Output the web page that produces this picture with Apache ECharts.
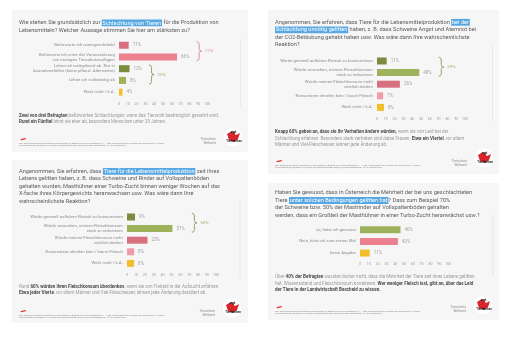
<!DOCTYPE html>
<html><head><meta charset="utf-8">
<script src="https://cdn.jsdelivr.net/npm/echarts@6/dist/echarts.min.js"></script>
<style>html,body{margin:0;padding:0;background:#fff}#c{width:512px;height:337px}</style>
</head><body><div id="c"></div>
<script>
// ---- survey data ----
const cats1 = ['Befürworte ich uneingeschränkt',
  'Befürworte ich unter der Voraussetzung\nvon strengen Tierschutzauflagen',
  'Lehne ich weitgehend ab. Nur in\nAusnahmefällen (keine pflanzl. Alternative)',
  'Lehne ich vollständig ab', 'Weiß nicht / k.A.'];
const vals1 = [11, 66, 12, 8, 4];
const groups1 = [[0, 1], [2, 3]];

const cats2 = ['Würde generell aufhören Fleisch zu konsumieren',
  'Würde versuchen, meinen Fleischkonsum\nstark zu reduzieren',
  'Würde meinen Fleischkonsum nicht\nwirklich ändern',
  'Konsumiere ohnehin kein / kaum Fleisch', 'Weiß nicht / k.A.'];
const vals2 = [11, 48, 26, 7, 8];
const groups2 = [[0, 1]];

const cats3 = cats2.slice();
const vals3 = [9, 51, 23, 8, 8];
const groups3 = [[0, 1]];

const cats4 = ['Ja, habe ich gewusst', 'Nein, höre ich zum ersten Mal', 'keine Angabe'];
const vals4 = [46, 43, 11];
const groups4 = [];

const ticks = [0, 10, 20, 30, 40, 50, 60, 70, 80, 90, 100];

const title1 = 'Wie stehen Sie grundsätzlich zur {hl|Schlachtung von Tieren} für die Produktion von\nLebensmitteln? Welcher Aussage stimmen Sie hier am stärksten zu?';
const title2 = 'Angenommen, Sie erfahren, dass Tiere für die Lebensmittelproduktion {hl|bei der}\n{hl|Schlachtung unnötig gelitten} haben, z. B. dass Schweine Angst und Atemnot bei\nder CO2-Betäubung gehabt haben usw. Was wäre dann Ihre wahrscheinlichste\nReaktion?';
const title3 = 'Angenommen, Sie erfahren, dass {hl|Tiere für die Lebensmittelproduktion} zeit ihres\nLebens gelitten haben, z. B. dass Schweine und Rinder auf Vollspaltenböden\ngehalten wurden, Masthühner einer Turbo-Zucht binnen weniger Wochen auf das\nX-fache ihres Körpergewichts heranwachsen usw. Was wäre dann Ihre\nwahrscheinlichste Reaktion?';
const title4 = 'Haben Sie gewusst, dass in Österreich die Mehrheit der bei uns geschlachteten\nTiere {hl|unter solchen Bedingungen gelitten hat}? Dass zum Beispiel 70%\nder Schweine bzw. 50% der Mastrinder auf Vollspaltenböden gehalten\nwerden, dass ein Großteil der Masthühner in einer Turbo-Zucht heranwächst usw.?';

const note1 = '{b|Zwei von drei Befragten} befürworten Schlachtungen, wenn das Tierwohl bestmöglich gewahrt wird.\n{b|Rund ein Fünftel} lehnt sie eher ab, besonders Menschen unter 29 Jahren.';
const note2 = '{b|Knapp 60% geben an, dass sie ihr Verhalten ändern würden,} wenn sie von Leid bei der\nSchlachtung erfahren. Besonders stark vertreten sind dabei Frauen. {b|Etwa ein Viertel}, vor allem\nMänner und Viel-Fleischesser, lehnen jede Änderung ab.';
const note3 = 'Rund {b|60% würden ihren Fleischkonsum überdenken}, wenn sie von Tierleid in der Aufzucht erfahren.\n{b|Etwa jeder Vierte}, vor allem Männer und Viel-Fleischesser, lehnen jede Änderung dezidiert ab.';
const note4 = 'Über {b|40% der Befragten} wussten bisher nicht, dass die Mehrheit der Tiere zeit ihres Lebens gelitten\nhat. Wissensstand und Fleischkonsum korrelieren. {b|Wer weniger Fleisch isst, gibt an, über das Leid}\n{b|der Tiere in der Landwirtschaft Bescheid zu wissen.}';

const source = 'Eine Studie des MARKET Marktforschungsinstituts im Auftrag von Tierschutz Austria, n = 1.000, repräsentativ für die österr. Bevölkerung ab 16 Jahren\nOnline-Befragung, Angaben in Prozent, Rundungsdifferenzen möglich, Erhebungszeitraum: 15.-26. August 2024';
const brand = 'Tierschutz\nWeltweit';

// ---- styling ----
const ROSE = '#d8717f', PINK = '#ec808e', PINK_L = '#f09ba7',
      OLIVE_D = '#7c8c3f', OLIVE_L = '#9db25a', YELLOW = '#f1bf2c';
const FONT = 'Roboto, "Noto Sans", sans-serif';
const TITLE_FS = 5.65, NOTE_FS = 4.55;

const panels = [
  { cats: cats1, vals: vals1, groups: groups1,
    colors: [ROSE, PINK, OLIVE_D, OLIVE_L, YELLOW],
    braceColors: [[ROSE, '#e08f9a'], [OLIVE_D, '#a7b478']],
    card: [12, 10, 236, 142], grid: { left: 119, top: 39.4, width: 88, height: 58.6 },
    title: title1, titleY: 19.2, note: note1, noteY: 112.8, vline: [240.5, 39, 106],
    footY: 141.5, brandY: 137.5, logo: [233, 137] },
  { cats: cats2, vals: vals2, groups: groups2,
    colors: [OLIVE_D, OLIVE_L, ROSE, PINK_L, YELLOW],
    braceColors: [[OLIVE_D, '#a7b478']],
    card: [268, 10, 231, 164], grid: { left: 377, top: 55.2, width: 88, height: 58 },
    title: title2, titleY: 18.6, note: note2, noteY: 129.3, vline: [492.5, 46, 121],
    footY: 163.5, brandY: 159.3, logo: [484, 158] },
  { cats: cats3, vals: vals3, groups: groups3,
    colors: [OLIVE_D, OLIVE_L, ROSE, PINK_L, YELLOW],
    braceColors: [[OLIVE_D, '#a7b478']],
    card: [12, 160, 236, 163], grid: { left: 127, top: 211.2, width: 89, height: 58 },
    title: title3, titleY: 167.6, note: note3, noteY: 284, vline: [240, 200, 278],
    footY: 313.5, brandY: 309.5, logo: [232, 308] },
  { cats: cats4, vals: vals4, groups: groups4,
    colors: [OLIVE_L, PINK, YELLOW],
    braceColors: [],
    card: [268, 183, 231, 137], grid: { left: 360, top: 223.9, width: 88, height: 35 },
    title: title4, titleY: 189.3, note: note4, noteY: 274.3, vline: [493, 214, 276],
    footY: 309.5, brandY: 305.5, logo: [483, 305] }
];

const graphics = [];
const grids = [], xAxes = [], yAxes = [], series = [];

panels.forEach((p, i) => {
  const [cx, cy, cw, ch] = p.card;
  graphics.push({ type: 'rect', shape: { x: cx, y: cy, width: cw, height: ch }, style: { fill: '#f6f6f7' }, z: -10 });
  graphics.push({ type: 'line', shape: { x1: p.vline[0], y1: p.vline[1], x2: p.vline[0], y2: p.vline[2] },
    style: { stroke: '#e4e4e6', lineWidth: 0.8 }, z: -5 });
  graphics.push({ type: 'text', x: cx + 7, y: p.titleY, style: {
    text: p.title, fill: '#5c5c5c', font: TITLE_FS + 'px ' + FONT, lineHeight: 7.45, verticalAlign: 'top',
    rich: { hl: { fill: '#ffffff', backgroundColor: '#56a7e2', fontSize: TITLE_FS, fontFamily: FONT, lineHeight: 7.45, padding: [0.6, 0.8, 0.2, 0.8] } } } });
  graphics.push({ type: 'text', x: cx + 7, y: p.noteY, style: {
    text: p.note, fill: '#9a9a9a', font: NOTE_FS + 'px ' + FONT, lineHeight: 6.1, verticalAlign: 'top',
    rich: { b: { fill: '#4a4a4a', fontWeight: 'bold', fontSize: NOTE_FS, fontFamily: FONT, lineHeight: 6.1 } } } });
  // footer: source line, small red mark, brand and round badge
  graphics.push({ type: 'text', x: cx + 7, y: p.footY, style: {
    text: source, fill: '#8c8c8c', font: '2.2px ' + FONT, lineHeight: 2.9, verticalAlign: 'top' } });
  graphics.push({ type: 'polygon', shape: { points: [[cx + 8, p.footY - 2.2], [cx + 13, p.footY - 3.6], [cx + 14.5, p.footY - 2.4], [cx + 9.5, p.footY - 1.2]] },
    style: { fill: '#e03a3a' } });
  graphics.push({ type: 'text', x: p.logo[0] - 17, y: p.brandY, style: {
    text: brand, fill: '#8c8c8c', font: '3.3px ' + FONT, lineHeight: 3.8, align: 'right', verticalAlign: 'top' } });
  const [lx, ly] = p.logo;
  graphics.push({ type: 'circle', shape: { cx: lx, cy: ly, r: 10 }, style: { fill: '#ffffff', stroke: '#ececec', lineWidth: 0.5 } });
  graphics.push({ type: 'polygon', shape: { points: [[lx - 6, ly - 3], [lx - 1, ly - 6], [lx + 3, ly - 2], [lx + 7, ly - 4], [lx + 5, ly + 2], [lx + 1, ly + 5], [lx - 4, ly + 3]] },
    style: { fill: '#d8262b' } });
  graphics.push({ type: 'text', x: lx + 0.5, y: ly - 5.5, style: { text: 'vgt', fill: '#1a1a1a', font: 'bold 4px ' + FONT, align: 'center', verticalAlign: 'middle' } });
  graphics.push({ type: 'text', x: lx + 1, y: ly + 4.5, style: { text: 'Tierfabriken', fill: '#1a1a1a', font: 'bold 2.8px ' + FONT, align: 'center', verticalAlign: 'middle' } });

  grids.push(Object.assign({ containLabel: false }, p.grid));
  xAxes.push({ type: 'value', gridIndex: i, min: 0, max: 100, interval: 10,
    axisLine: { show: false }, axisTick: { show: false }, splitLine: { show: false },
    axisLabel: { fontSize: 3.6, color: '#a0a0a0', margin: 3.6, fontFamily: FONT,
      customValues: ticks } });
  yAxes.push({ type: 'category', gridIndex: i, data: p.cats, inverse: true,
    axisLine: { show: false }, axisTick: { show: false },
    axisLabel: { fontSize: 4.3, color: '#8e8e8e', lineHeight: 4.9, margin: 4.2, fontFamily: FONT } });
  series.push({ type: 'bar', xAxisIndex: i, yAxisIndex: i, barWidth: 7, silent: true,
    data: p.vals.map((v, k) => ({ value: v, itemStyle: { color: p.colors[k] } })),
    label: { show: true, position: 'right', distance: 4, formatter: '{c}%', fontSize: 4.5, color: '#a3a3a3', fontFamily: FONT } });
  if (p.groups.length) {
    const braceData = p.groups.map(([s, e]) => {
      const part = p.vals.slice(s, e + 1);
      return [s, e, Math.max.apply(null, part), part.reduce((a, b) => a + b, 0)];
    });
    series.push({ type: 'custom', xAxisIndex: i, yAxisIndex: i, silent: true,
      encode: { x: 2, y: 0 }, data: braceData,
      renderItem: (params, api) => {
        const s = api.value(0), e = api.value(1), m = api.value(2), sum = api.value(3);
        const top = api.coord([m, s]), bot = api.coord([m, e]);
        const [stroke, txt] = p.braceColors[params.dataIndex];
        const x0 = top[0] + 22, yT = top[1] - 3.6, yB = bot[1] + 3.6, yM = (yT + yB) / 2, w = 2.6;
        const quad = (a, c, b) => { const out = []; for (let t = 0; t <= 1.001; t += 0.25) {
          out.push([(1 - t) * (1 - t) * a[0] + 2 * (1 - t) * t * c[0] + t * t * b[0],
                    (1 - t) * (1 - t) * a[1] + 2 * (1 - t) * t * c[1] + t * t * b[1]]); } return out; };
        const pts = [].concat(
          quad([x0 - w, yT], [x0, yT], [x0, yT + w]),
          quad([x0, yM - w], [x0, yM], [x0 + w, yM]),
          quad([x0 + w, yM], [x0, yM], [x0, yM + w]),
          quad([x0, yB - w], [x0, yB], [x0 - w, yB]));
        return { type: 'group', children: [
          { type: 'polyline', shape: { points: pts }, style: { stroke: stroke, fill: null, lineWidth: 0.8 } },
          { type: 'text', x: x0 + 6, y: yM, style: { text: sum + '%', fill: txt, fontSize: 4.4, fontFamily: FONT, verticalAlign: 'middle' } }
        ] };
      } });
  }
});

const chart = echarts.init(document.getElementById('c'), null, { renderer: 'canvas' });
chart.setOption({
  backgroundColor: '#ffffff',
  animation: false,
  textStyle: { fontFamily: FONT },
  graphic: graphics,
  grid: grids, xAxis: xAxes, yAxis: yAxes, series: series
});
</script></body></html>
